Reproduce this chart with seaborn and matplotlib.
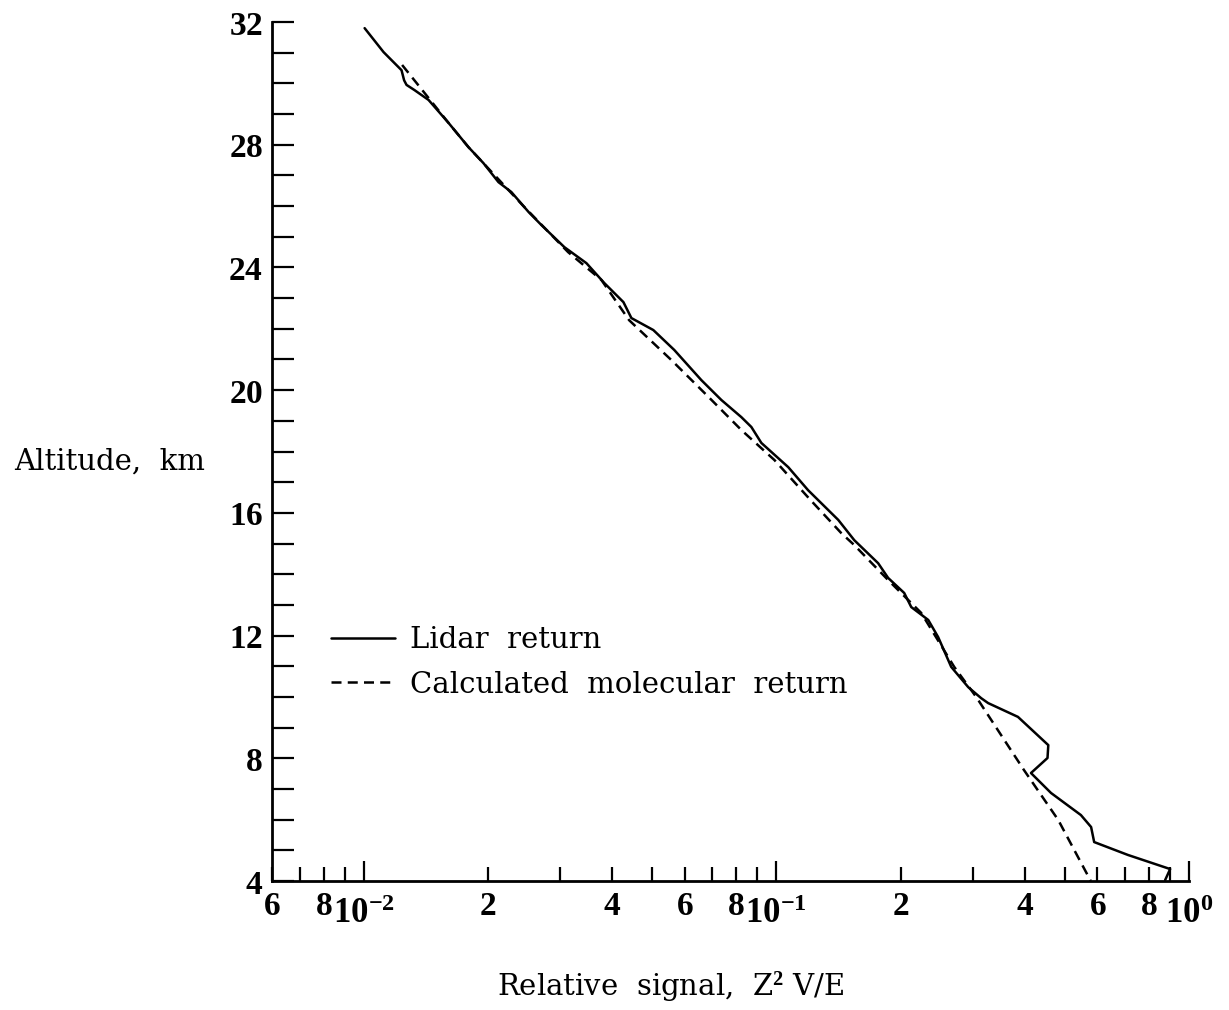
import numpy as np
import pandas as pd
import matplotlib
matplotlib.use("Agg")
import matplotlib.pyplot as plt
from matplotlib.ticker import FixedLocator, LogLocator, MultipleLocator, FuncFormatter
import seaborn as sns

# Lidar backscatter profile (altitude in km, relative signal Z^2 V/E)
lidar_alt = [31.80, 31.02, 30.43, 30.10, 29.95, 29.78, 29.46, 28.71, 27.92, 27.40,
             26.78, 26.46, 25.81, 25.38, 24.66, 24.14, 23.49, 22.87, 22.35, 21.96,
             21.31, 20.33, 19.68, 19.12, 18.80, 18.28, 17.49, 16.74, 15.77, 15.11,
             14.36, 13.88, 13.39, 12.93, 12.51, 11.95, 10.98, 10.32, 9.96, 9.80,
             9.35, 8.43, 8.01, 7.52, 6.87, 6.15, 5.76, 5.27, 4.85, 4.39, 4.03]
lidar_sig = [0.01006, 0.01118, 0.01236, 0.01254, 0.01271, 0.01329, 0.01437, 0.01607, 0.01796, 0.01952,
             0.02123, 0.0228, 0.0251, 0.02698, 0.03067, 0.03467, 0.03832, 0.04262, 0.04456, 0.05035,
             0.0566, 0.0658, 0.0736, 0.0823, 0.0870, 0.0920, 0.1069, 0.1194, 0.1413, 0.1545,
             0.1765, 0.1866, 0.2041, 0.2123, 0.2334, 0.2467, 0.2653, 0.2917, 0.3136, 0.326,
             0.385, 0.456, 0.454, 0.414, 0.463, 0.547, 0.579, 0.589, 0.711, 0.90, 0.875]

# Calculated molecular (Rayleigh) return
model_alt = [30.60, 28.71, 27.92, 26.00, 24.50, 23.59, 22.28, 20.98, 19.78, 18.70,
             17.72, 16.42, 15.34, 14.95, 13.81, 12.74, 10.98, 10.00, 7.62, 5.99, 4.00]
model_sig = [0.0124, 0.01607, 0.01796, 0.0244, 0.0313, 0.0377, 0.0440, 0.0557, 0.0685, 0.0823,
             0.0990, 0.1210, 0.1437, 0.1545, 0.1866, 0.2244, 0.2698, 0.305, 0.398, 0.482, 0.578]

series_names = ["Lidar  return", "Calculated  molecular  return"]

y_major = [4, 8, 12, 16, 20, 24, 28, 32]

df = pd.concat([
    pd.DataFrame({"altitude": lidar_alt, "signal": lidar_sig, "series": series_names[0]}),
    pd.DataFrame({"altitude": model_alt, "signal": model_sig, "series": series_names[1]}),
], ignore_index=True)

sns.set_style("ticks")
plt.rcParams.update({
    "font.family": ["DejaVu Serif"],
    "mathtext.fontset": "custom",
    "mathtext.rm": "Liberation Serif",
    "mathtext.bf": "Liberation Serif:bold",
    "mathtext.it": "Liberation Serif:italic",
    "lines.linewidth": 1.8,
    "axes.linewidth": 2.0,
    "axes.edgecolor": "black",
    "axes.labelcolor": "black",
    "text.color": "black",
    "xtick.color": "black",
    "ytick.color": "black",
    "xtick.direction": "in",
    "ytick.direction": "in",
})

fig, ax = plt.subplots(figsize=(12.29, 10.10), dpi=100)
fig.subplots_adjust(left=0.2213, right=0.9675, bottom=0.1277, top=0.9782)
ax.set_xscale("log")

sns.lineplot(data=df, x="signal", y="altitude", hue="series", style="series",
             palette={n: "black" for n in series_names},
             dashes={series_names[0]: "", series_names[1]: (4, 2.5)},
             sort=False, estimator=None, linewidth=1.8, ax=ax)

ax.set_xlim(0.006, 1.0)
ax.set_ylim(4, 32)
sns.despine(ax=ax)

# x axis: decade ticks long, intermediate ticks short, labels at 2/4/6/8
ax.xaxis.set_major_locator(FixedLocator([0.01, 0.1, 1.0]))
ax.xaxis.set_minor_locator(LogLocator(base=10, subs=np.arange(2, 10), numticks=20))


def decade_label(v, pos):
    return r"$\mathbf{10^{%d}}$" % int(round(np.log10(v)))


def mantissa_label(v, pos):
    m = v / 10 ** np.floor(np.log10(v) + 1e-9)
    m = int(round(m))
    return r"$\mathbf{%d}$" % m if m in (2, 4, 6, 8) else ""


ax.xaxis.set_major_formatter(FuncFormatter(decade_label))
ax.xaxis.set_minor_formatter(FuncFormatter(mantissa_label))

ax.yaxis.set_major_locator(FixedLocator(y_major))
ax.yaxis.set_minor_locator(MultipleLocator(1))
ax.yaxis.set_major_formatter(FuncFormatter(lambda v, p: r"$\mathbf{%d}$" % int(v)))

ax.tick_params(axis="x", which="major", length=14.5, width=1.6, labelsize=25, pad=11)
ax.tick_params(axis="x", which="minor", length=10, width=1.6, labelsize=24, pad=6.5)
ax.tick_params(axis="y", which="both", length=16, width=1.6, labelsize=24, pad=6.5)

ax.set_ylabel("Altitude,  km", rotation=0, ha="center", va="center", fontsize=21)
ax.yaxis.set_label_coords(-0.1767, 0.488)
ax.set_xlabel(r"Relative  signal,  Z$^{\mathbf{2}}$ V/E", fontsize=21, va="center")
ax.xaxis.set_label_coords(0.435, -0.1246)

sns.move_legend(ax, "center left", bbox_to_anchor=(0.0643, 0.2544), title=None,
                frameon=False, fontsize=21, handlelength=2.2, handletextpad=0.5,
                labelspacing=0.55, borderpad=0, borderaxespad=0)

fig.savefig("out.png", dpi=100)
